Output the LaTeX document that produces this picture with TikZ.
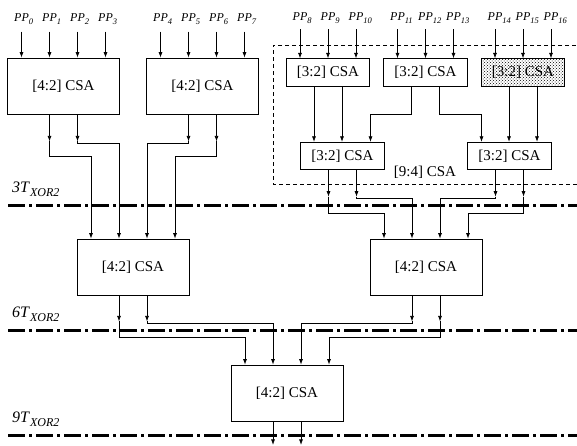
\documentclass[tikz,border=0pt]{standalone}
\usepackage{fontspec}
\setmainfont{Liberation Serif}
\usetikzlibrary{arrows.meta,patterns}
\newcommand{\ppl}[1]{\textit{PP}\raisebox{-3pt}{\fontsize{8.5}{9}\selectfont\textit{#1}}}
\newcommand{\txor}[1]{\textit{#1T}\raisebox{-4.5pt}{\fontsize{12}{13}\selectfont\textit{XOR2}}}
\begin{document}
\begin{tikzpicture}[x=1pt,y=-1pt,
 csa/.style={draw, line width=0.8pt, inner sep=0pt, font=\fontsize{15}{18}\selectfont, minimum height=56pt, minimum width=112pt},
 csa3/.style={csa, minimum height=27.5pt, minimum width=83.5pt},
 conn/.style={line width=0.7pt, -{Latex[length=5.5pt,width=4pt]}},
 stage/.style={line width=3pt, dash pattern=on 17pt off 4pt on 3pt off 4pt},
 group/.style={line width=0.8pt, dash pattern=on 4pt off 3pt},
 pp/.style={inner sep=0pt, anchor=base west, font=\fontsize{12}{14}\selectfont},
 tlab/.style={inner sep=0pt, anchor=base west, font=\fontsize{16}{18}\selectfont}]
\useasboundingbox[fill=white] (0,0) rectangle (577,445);

% stage lines
\coordinate (s1l) at (8,205); \coordinate (s1r) at (582,205);
\coordinate (s2l) at (8,330); \coordinate (s2r) at (582,330);
\coordinate (s3l) at (8,435); \coordinate (s3r) at (582,435);
\draw[stage] (s1l) -- (s1r);
\draw[stage] (s2l) -- (s2r);
\draw[stage] (s3l) -- (s3r);

\node[tlab] (t3) at (12,192) {\txor{3}};
\node[tlab] (t6) at (12,317) {\txor{6}};
\node[tlab] (t9) at (12,422) {\txor{9}};

% [9:4] group
\coordinate (g1) at (590,45); \coordinate (g2) at (273,45);
\coordinate (g3) at (273,184); \coordinate (g4) at (590,184);
\draw[group] (g1) -- (g2) -- (g3) -- (g4);
\node[font=\fontsize{15}{18}\selectfont, inner sep=0pt] (g94) at (425,172) {[9:4] CSA};

% boxes
\node[csa] (A) at (63.5,86) {[4:2] CSA};
\node[csa] (B) at (202.5,86) {[4:2] CSA};
\node[csa3] (C) at (328,72.5) {[3:2] CSA};
\node[csa3] (D) at (425.5,72.5) {[3:2] CSA};
\node[csa3, pattern=crosshatch dots, pattern color=black] (E) at (523,72.5) {[3:2] CSA};
\node[csa3] (F) at (342.5,156) {[3:2] CSA};
\node[csa3] (G) at (509.5,156) {[3:2] CSA};
\node[csa] (L) at (133,267) {[4:2] CSA};
\node[csa] (H) at (426,267) {[4:2] CSA};
\node[csa] (M) at (287,393) {[4:2] CSA};

% inputs
\foreach \n/\i/\dx in {A/0/-42, A/1/-14, A/2/14, A/3/42, B/4/-42, B/5/-14, B/6/14, B/7/42} {
 \draw[conn] ([xshift=\dx pt, yshift=26pt]\n.north) -- ([xshift=\dx pt]\n.north);
 \node[pp] (p\i) at ([xshift={(\dx-7.5)*1pt}, yshift=36pt]\n.north) {\ppl{\i}};
}
\foreach \n/\i/\dx in {C/8/-28, C/9/0, C/10/28, D/11/-28, D/12/0, D/13/28, E/14/-28, E/15/0, E/16/28} {
 \draw[conn] ([xshift=\dx pt, yshift=29pt]\n.north) -- ([xshift=\dx pt]\n.north);
 \node[pp] (p\i) at ([xshift={(\dx-7.5)*1pt}, yshift=38pt]\n.north) {\ppl{\i}};
}

% first-level 3:2 into second-level 3:2
\draw[conn] ([xshift=-14pt]C.south) -- ([xshift=-14pt]C.south |- F.north);
\draw[conn] ([xshift=14pt]C.south) -- ([xshift=14pt]C.south |- F.north);
\draw[conn] ([xshift=-14pt]D.south) -- ++(0,28) -| ([xshift=28pt]F.north);
\draw[conn] ([xshift=14pt]D.south) -- ++(0,28) -| ([xshift=-28pt]G.north);
\draw[conn] ([xshift=-14pt]E.south) -- ([xshift=-14pt]E.south |- G.north);
\draw[conn] ([xshift=14pt]E.south) -- ([xshift=14pt]E.south |- G.north);

% outputs of A, B
\draw[conn] ([xshift=-14pt]A.south) -- ++(0,27) coordinate (a1);
\draw[conn] ([xshift=14pt]A.south) -- ++(0,27) coordinate (a2);
\draw[conn] ([xshift=-14pt]B.south) -- ++(0,27) coordinate (b1);
\draw[conn] ([xshift=14pt]B.south) -- ++(0,27) coordinate (b2);
\draw[conn] (a1) -- ++(0,15) -| ([xshift=-42pt]L.north);
\draw[conn] (a2) -- ++(0,2) -| ([xshift=-14pt]L.north);
\draw[conn] (b1) -- ++(0,2) -| ([xshift=14pt]L.north);
\draw[conn] (b2) -- ++(0,15) -| ([xshift=42pt]L.north);

% outputs of F, G
\draw[conn] ([xshift=-14pt]F.south) -- ++(0,26.5) coordinate (f1);
\draw[conn] ([xshift=14pt]F.south) -- ++(0,26.5) coordinate (f2);
\draw[conn] ([xshift=-14pt]G.south) -- ++(0,26.5) coordinate (h1g);
\draw[conn] ([xshift=14pt]G.south) -- ++(0,26.5) coordinate (h2g);
\draw[conn] (f1) -- ++(0,16.5) -| ([xshift=-42pt]H.north);
\draw[conn] (f2) -- ++(0,2) -| ([xshift=-14pt]H.north);
\draw[conn] (h1g) -- ++(0,2) -| ([xshift=14pt]H.north);
\draw[conn] (h2g) -- ++(0,16.5) -| ([xshift=42pt]H.north);

% outputs of L, H
\draw[conn] ([xshift=-14pt]L.south) -- ++(0,26) coordinate (l1);
\draw[conn] ([xshift=14pt]L.south) -- ++(0,26) coordinate (l2);
\draw[conn] ([xshift=-14pt]H.south) -- ++(0,26) coordinate (k1);
\draw[conn] ([xshift=14pt]H.south) -- ++(0,26) coordinate (k2);
\draw[conn] (l1) -- ++(0,16) -| ([xshift=-42pt]M.north);
\draw[conn] (l2) -- ++(0,2) -| ([xshift=-14pt]M.north);
\draw[conn] (k1) -- ++(0,2) -| ([xshift=14pt]M.north);
\draw[conn] (k2) -- ++(0,16) -| ([xshift=42pt]M.north);

% final outputs
\coordinate (o1) at ([xshift=-14pt, yshift=-23.5pt]M.south);
\coordinate (o2) at ([xshift=14pt, yshift=-23.5pt]M.south);
\draw[conn] ([xshift=-14pt]M.south) -- (o1);
\draw[conn] ([xshift=14pt]M.south) -- (o2);
\end{tikzpicture}
\end{document}
